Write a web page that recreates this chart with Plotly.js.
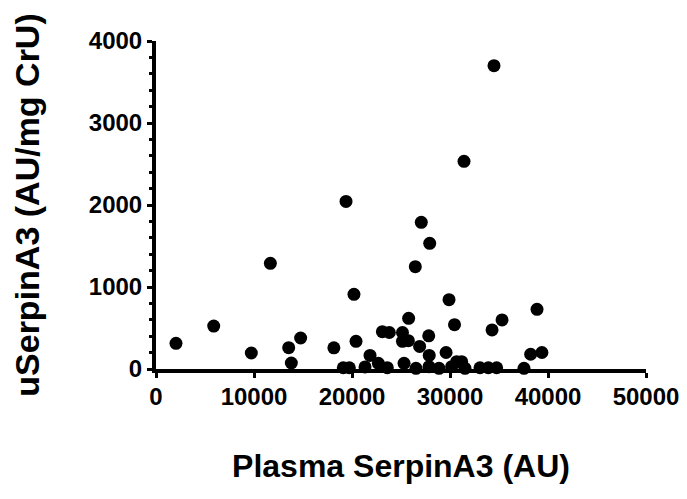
<!DOCTYPE html>
<html>
<head>
<meta charset="utf-8">
<script src="https://cdn.plot.ly/plotly-3.0.1.min.js"></script>
<style>html,body{margin:0;padding:0;background:#fff;}#chart{width:687px;height:499px;}</style>
</head>
<body>
<div id="chart"></div>
<script>
// Plasma SerpinA3 (AU)
const plasmaSerpinA3 = [
  2040, 5890, 9725, 11670, 13540, 13810, 14760, 18150, 19390, 19110,
  19730, 20200, 20410, 21330, 21840, 22690, 23600, 23100, 23810, 25150,
  25150, 25750, 25310, 25780, 26460, 26530, 26900, 27070, 27930, 27830,
  27880, 27860, 28880, 29600, 29900, 30460, 30170, 30680, 31190, 31530,
  31430, 33060, 33910, 34760, 34290, 34490, 35310, 37550, 38230, 39380,
  38880
];
// uSerpinA3 (AU/mg CrU)
const uSerpinA3 = [
  313, 524, 195, 1289, 260, 73, 378, 258, 2043, 15,
  15, 911, 338, 25, 165, 69, 16, 455, 445, 445,
  337, 345, 69, 618, 1248, 8, 275, 1789, 1533, 404,
  165, 28, 8, 201, 845, 540, 28, 89, 89, 8,
  2533, 15, 15, 15, 476, 3699, 598, 8, 180, 201,
  728
];
const xTickVals = [0, 10000, 20000, 30000, 40000, 50000];
const yTickVals = [0, 1000, 2000, 3000, 4000];
const xTitle = "Plasma SerpinA3 (AU)";
const yTitle = "uSerpinA3 (AU/mg CrU)";

const font = "Liberation Sans, Arial, Helvetica, sans-serif";

const trace = {
  x: plasmaSerpinA3,
  y: uSerpinA3,
  type: "scatter",
  mode: "markers",
  cliponaxis: false,
  marker: {color: "#000000", size: 13, line: {width: 0}},
  hoverinfo: "x+y"
};

const layout = {
  width: 687,
  height: 499,
  margin: {l: 156, r: 41, t: 41, b: 130},
  paper_bgcolor: "#ffffff",
  plot_bgcolor: "#ffffff",
  showlegend: false,
  font: {family: font, color: "#000000"},
  xaxis: {
    range: [0, 50000],
    tickvals: xTickVals,
    ticktext: xTickVals.map(String),
    showgrid: false,
    zeroline: false,
    showline: true,
    linecolor: "#000000",
    linewidth: 4,
    ticks: "outside",
    ticklen: 5,
    tickwidth: 3,
    tickcolor: "#000000",
    ticklabelstandoff: -2,
    tickfont: {family: font, size: 24, weight: "bold", color: "#000000"},
    title: {text: xTitle, font: {family: font, size: 32, weight: "bold", color: "#000000"}, standoff: 47}
  },
  yaxis: {
    range: [0, 4000],
    tickvals: yTickVals,
    ticktext: yTickVals.map(String),
    showgrid: false,
    zeroline: false,
    showline: true,
    linecolor: "#000000",
    linewidth: 4,
    ticks: "outside",
    ticklen: 5,
    tickwidth: 3,
    tickcolor: "#000000",
    tickfont: {family: font, size: 24, weight: "bold", color: "#000000"},
    minor: {dtick: 200, ticks: "outside", ticklen: 3, tickwidth: 3, tickcolor: "#000000", showgrid: false},
    title: {text: yTitle, font: {family: font, size: 34, weight: "bold", color: "#000000"}, standoff: 40}
  }
};

Plotly.newPlot("chart", [trace], layout, {staticPlot: true, displayModeBar: false});
</script>
</body>
</html>
